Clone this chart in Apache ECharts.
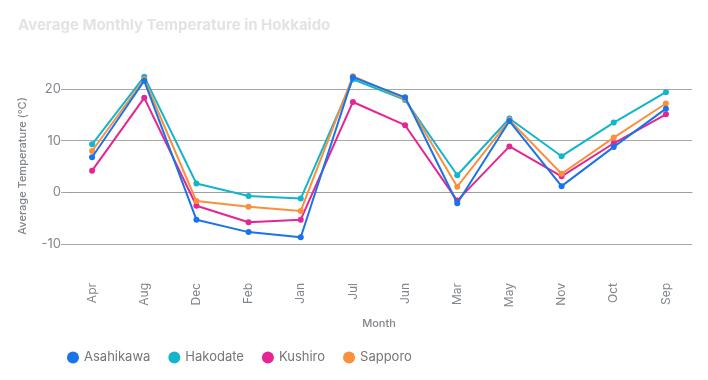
<!DOCTYPE html>
<html>
<head>
<meta charset="utf-8">
<script src="https://cdn.jsdelivr.net/npm/echarts@6/dist/echarts.min.js"></script>
<style>
html,body{margin:0;padding:0;background:#fff;}
#chart{width:708px;height:380px;}
</style>
</head>
<body>
<div id="chart"></div>
<script>
const months = ['Apr','Aug','Dec','Feb','Jan','Jul','Jun','Mar','May','Nov','Oct','Sep'];
const asahikawa = [6.8, 21.6, -5.3, -7.7, -8.7, 22.3, 18.4, -2.1, 13.8, 1.2, 8.8, 16.2];
const hakodate  = [9.3, 22.4, 1.7, -0.7, -1.2, 21.9, 17.9, 3.3, 14.3, 7.0, 13.5, 19.4];
const kushiro   = [4.2, 18.3, -2.6, -5.8, -5.3, 17.5, 13.0, -1.6, 8.9, 3.1, 9.5, 15.1];
const sapporo   = [8.0, 21.9, -1.7, -2.8, -3.6, 22.5, 18.1, 1.1, 14.0, 3.6, 10.6, 17.2];
const yTicks = [-10, 0, 10, 20];
const seriesNames = ['Asahikawa','Hakodate','Kushiro','Sapporo'];
const colors = ['#1a73e8','#12b5cb','#e52592','#fa903e'];
const seriesData = [asahikawa, hakodate, kushiro, sapporo];

const chart = echarts.init(document.getElementById('chart'));
const FONT = 'Inter, Roboto, sans-serif';
chart.setOption({
  animation: false,
  color: colors,
  textStyle: {fontFamily: FONT},
  title: {
    text: 'Average Monthly Temperature in Hokkaido',
    left: 13, top: 13,
    textStyle: {color: '#e3e3e3', fontSize: 15, fontWeight: 'bold', fontFamily: FONT}
  },
  grid: {left: 66, right: 16, top: 56, bottom: 104},
  legend: {
    left: 62, top: 346,
    icon: 'circle', itemWidth: 12, itemHeight: 12, itemGap: 18,
    textStyle: {color: '#757575', fontSize: 13, fontFamily: FONT},
    data: seriesNames
  },
  xAxis: {
    type: 'category',
    data: months,
    boundaryGap: true,
    name: 'Month',
    nameLocation: 'middle',
    nameGap: 42,
    nameTextStyle: {color: '#80868b', fontSize: 11, fontWeight: 500, fontFamily: FONT},
    axisLine: {lineStyle: {color: '#9e9e9e', width: 1}},
    axisTick: {show: false},
    axisLabel: {rotate: 90, color: '#80868b', fontSize: 12, margin: 7, fontFamily: FONT}
  },
  yAxis: {
    type: 'value',
    min: -16.2, max: 26.4,
    name: 'Average Temperature (°C)',
    nameLocation: 'middle',
    nameGap: 38,
    nameTextStyle: {color: '#80868b', fontSize: 11, fontWeight: 500, fontFamily: FONT},
    axisLine: {show: false},
    axisTick: {show: true, length: 5, customValues: yTicks, lineStyle: {color: '#a8a8a8'}},
    axisLabel: {color: '#80868b', fontSize: 13, margin: 5, customValues: yTicks, fontFamily: FONT},
    splitLine: {show: true, lineStyle: {color: '#a8a8a8', width: 1}}
  },
  series: seriesData.map((d, i) => ({
    name: seriesNames[i],
    type: 'line',
    data: d,
    symbol: 'circle',
    symbolSize: 6,
    lineStyle: {width: 2},
    itemStyle: {color: colors[i]},
    z: i === 0 ? 5 : 3
  }))
});
</script>
</body>
</html>
